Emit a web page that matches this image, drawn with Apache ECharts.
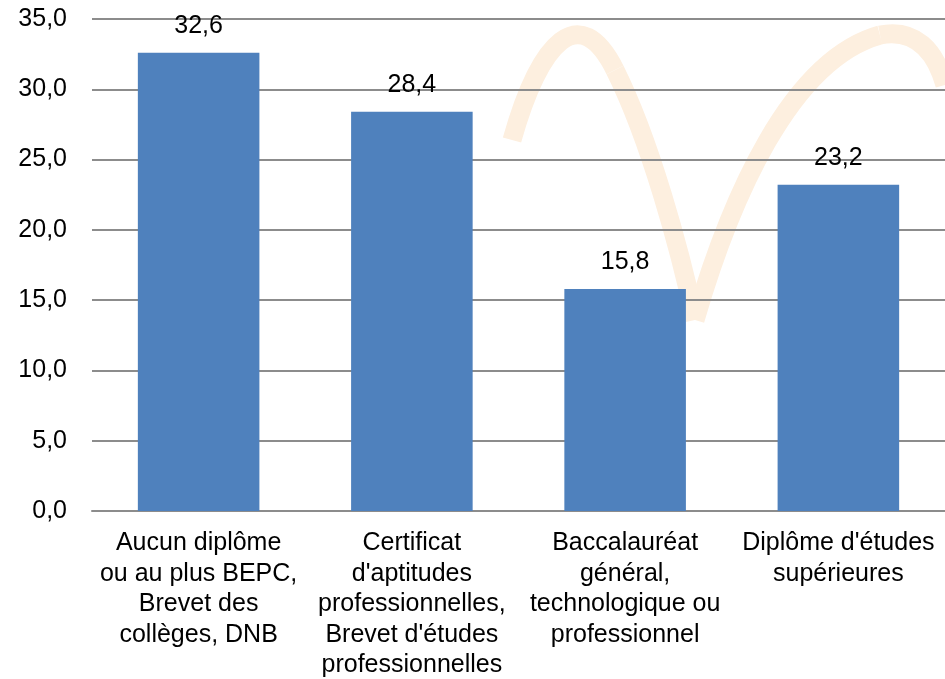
<!DOCTYPE html>
<html><head><meta charset="utf-8">
<script src="https://cdn.jsdelivr.net/npm/echarts@6/dist/echarts.min.js"></script>
<style>html,body{margin:0;padding:0;background:#fff}#c{width:945px;height:679px}</style>
</head><body><div id="c"></div>
<script>
const categories = [
  "Aucun diplôme\nou au plus BEPC,\nBrevet des\ncollèges, DNB",
  "Certificat\nd'aptitudes\nprofessionnelles,\nBrevet d'études\nprofessionnelles",
  "Baccalauréat\ngénéral,\ntechnologique ou\nprofessionnel",
  "Diplôme d'études\nsupérieures"
];
const values = [32.6, 28.4, 15.8, 23.2];
const yMin = 0, yMax = 35, yStep = 5;

const fmt = v => v.toFixed(1).replace('.', ',');
const wm = (x1, y1, c1x, c1y, c2x, c2y, x2, y2) => ({
  type: 'bezierCurve', z: -10, silent: true,
  shape: { x1: x1, y1: y1, cpx1: c1x, cpy1: c1y, cpx2: c2x, cpy2: c2y, x2: x2, y2: y2 },
  style: { fill: null, stroke: '#fdefdf', lineWidth: 19, lineCap: 'butt' }
});
const chart = echarts.init(document.getElementById('c'));
chart.setOption({
  animation: false,
  textStyle: { fontFamily: 'Liberation Sans, Arial, sans-serif' },
  graphic: [
    wm(512, 140, 540, 40, 580, 0, 615, 70),
    wm(615, 70, 650, 140, 680, 250, 695, 320),
    wm(695, 320, 730, 200, 790, 60, 880, 35),
    wm(880, 35, 915, 28, 935, 50, 945, 85)
  ],
  grid: { left: 92, right: 0, top: 19, bottom: 168, containLabel: false, outerBoundsMode: 'none' },
  xAxis: {
    type: 'category', data: categories,
    axisLine: { lineStyle: { color: '#8c8c8c', width: 2 } },
    axisTick: { show: false },
    axisLabel: { color: '#000', fontSize: 25, lineHeight: 30.5, margin: 17, interval: 0 }
  },
  yAxis: {
    type: 'value', min: yMin, max: yMax, interval: yStep,
    axisLine: { show: false }, axisTick: { show: false },
    splitLine: { lineStyle: { color: '#8c8c8c', width: 2 } },
    axisLabel: { color: '#000', fontSize: 25, margin: 25, formatter: v => fmt(v) }
  },
  series: [{
    type: 'bar', data: values, barWidth: '57%',
    itemStyle: { color: '#4f81bd' },
    label: { show: true, position: 'top', color: '#000', fontSize: 25, distance: 14, formatter: p => fmt(p.value) }
  }]
});
</script></body></html>
